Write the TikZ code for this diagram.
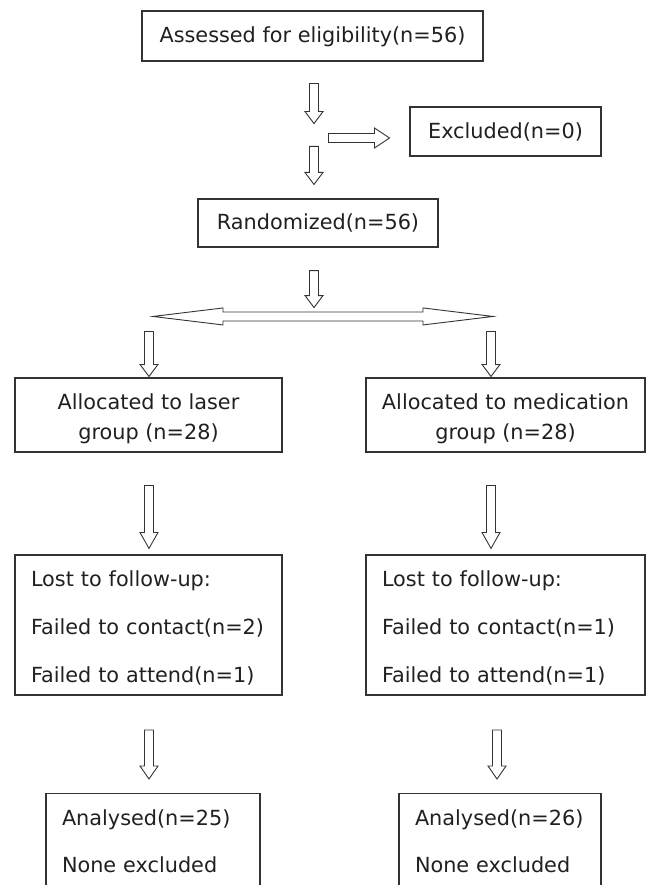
\documentclass[tikz,border=0pt]{standalone}
\usepackage{fontspec}
\setmainfont{DejaVu Sans}
\usepackage{xcolor}
\usepackage{tikz}
\usetikzlibrary{calc, positioning}

\definecolor{linegray}{RGB}{51,51,51}
\definecolor{textgray}{RGB}{35,31,32}

\tikzset{
    fat shaft/.store in=\fatshaft, fat head/.store in=\fathead, fat len/.store in=\fatlen,
    fat shaft=4.5pt, fat head=9pt, fat len=12pt,
    fat/.style={draw=linegray, fill=white, line width=0.9pt, to path={
        ($(\tikztotarget)!\fatlen!(\tikztostart)$) coordinate (fatbase)
        ($(\tikztostart)!\fatshaft!90:(\tikztotarget)$)
        -- ($(fatbase)!\fatshaft!90:(\tikztotarget)$)
        -- ($(fatbase)!\fathead!90:(\tikztotarget)$)
        -- (\tikztotarget)
        -- ($(fatbase)!\fathead!-90:(\tikztotarget)$)
        -- ($(fatbase)!\fatshaft!-90:(\tikztotarget)$)
        -- ($(\tikztostart)!\fatshaft!-90:(\tikztotarget)$) -- cycle}},
    fatboth/.style={draw=linegray, fill=white, line width=0.9pt, to path={
        ($(\tikztostart)!\fatlen!(\tikztotarget)$) coordinate (fatbs)
        ($(\tikztotarget)!\fatlen!(\tikztostart)$) coordinate (fatbt)
        (\tikztostart)
        -- ($(fatbs)!\fathead!90:(\tikztotarget)$)
        -- ($(fatbs)!\fatshaft!90:(\tikztotarget)$)
        -- ($(fatbt)!\fatshaft!90:(\tikztotarget)$)
        -- ($(fatbt)!\fathead!90:(\tikztotarget)$)
        -- (\tikztotarget)
        -- ($(fatbt)!\fathead!-90:(\tikztotarget)$)
        -- ($(fatbt)!\fatshaft!-90:(\tikztotarget)$)
        -- ($(fatbs)!\fatshaft!-90:(\tikztotarget)$)
        -- ($(fatbs)!\fathead!-90:(\tikztotarget)$) -- cycle}},
    boxbase/.style={draw=linegray, line width=1.1pt, text=textgray, inner sep=0pt},
    box/.style={boxbase, font=\fontsize{20.8pt}{25pt}\selectfont, text height=17pt, text depth=3.5pt},
    groupbox/.style={boxbase, align=center, font=\fontsize{20.8pt}{30pt}\selectfont},
    lostbox/.style={boxbase, align=left, inner xsep=16pt, font=\fontsize{20.8pt}{48pt}\selectfont},
    resultbox/.style={boxbase, align=left, inner xsep=16pt, inner ysep=16pt, font=\fontsize{20.8pt}{47pt}\selectfont}
}

\begin{document}
\begin{tikzpicture}[x=1pt, y=-1pt]
    \useasboundingbox (0,0) rectangle (646,885);
    \clip (0,0) rectangle (646,885);

    \node (assess) [box, minimum width=341pt, minimum height=50pt] at (312.5,36) {Assessed for eligibility(n=56)};
    \node (excl) [box, minimum width=191pt, minimum height=49pt] at (505.5,131.5) {Excluded(n=0)};
    \node (rand) [box, minimum width=240pt, minimum height=48pt] at (318,223) {Randomized(n=56)};

    \node (laser) [groupbox, minimum width=267pt, minimum height=74pt] at (148.5,415)
        {\rule{0pt}{24pt}Allocated to laser\\group (n=28)};
    \node (medic) [groupbox, minimum width=279pt, minimum height=74pt] at (505.5,415)
        {\rule{0pt}{24pt}Allocated to medication\\group (n=28)};

    \node (lostl) [lostbox, text width=235pt, minimum height=140pt] at (148.5,625)
        {\rule{0pt}{22.7pt}Lost to follow-up:\\Failed to contact(n=2)\\Failed to attend(n=1)};
    \node (lostr) [lostbox, text width=247pt, minimum height=140pt] at (505.5,625)
        {\rule{0pt}{22.7pt}Lost to follow-up:\\Failed to contact(n=1)\\Failed to attend(n=1)};

    \node (anl) [resultbox, text width=182pt, anchor=north] at (153,793) {Analysed(n=25)\\None excluded};
    \node (anr) [resultbox, text width=170pt, anchor=north] at (500,793) {Analysed(n=26)\\None excluded};

    \path [fat]
        ($(assess.south)+(1.5,22)$) edge ($(assess.south)+(1.5,62)$)
        ($(rand.north)+(-4,-52)$) edge ($(rand.north)+(-4,-14)$)
        ($(excl.west)+(-81,6.5)$) edge [fat len=15pt, fat head=10pt] ($(excl.west)+(-20,6.5)$)
        ($(rand.south)+(-4,23)$) edge ($(rand.south)+(-4,60)$)
        ($(laser.north)+(0.5,-46)$) edge ($(laser.north)+(0.5,-1)$)
        ($(medic.north)+(-14.5,-46)$) edge ($(medic.north)+(-14.5,-1)$)
        ($(lostl.north)+(0.5,-69)$) edge [fat len=16pt] ($(lostl.north)+(0.5,-6)$)
        ($(lostr.north)+(-14.5,-69)$) edge [fat len=16pt] ($(lostr.north)+(-14.5,-6)$)
        ($(anl.north)+(-4,-63)$) edge [fat len=13pt] ($(anl.north)+(-4,-14)$)
        ($(anr.north)+(-3,-63)$) edge [fat len=13pt] ($(anr.north)+(-3,-14)$);
    \path [fatboth, fat len=70pt, fat head=8.5pt]
        ($(laser.north)+(4.5,-61)$) edge ($(medic.north)+(-12.5,-61)$);
\end{tikzpicture}
\end{document}
